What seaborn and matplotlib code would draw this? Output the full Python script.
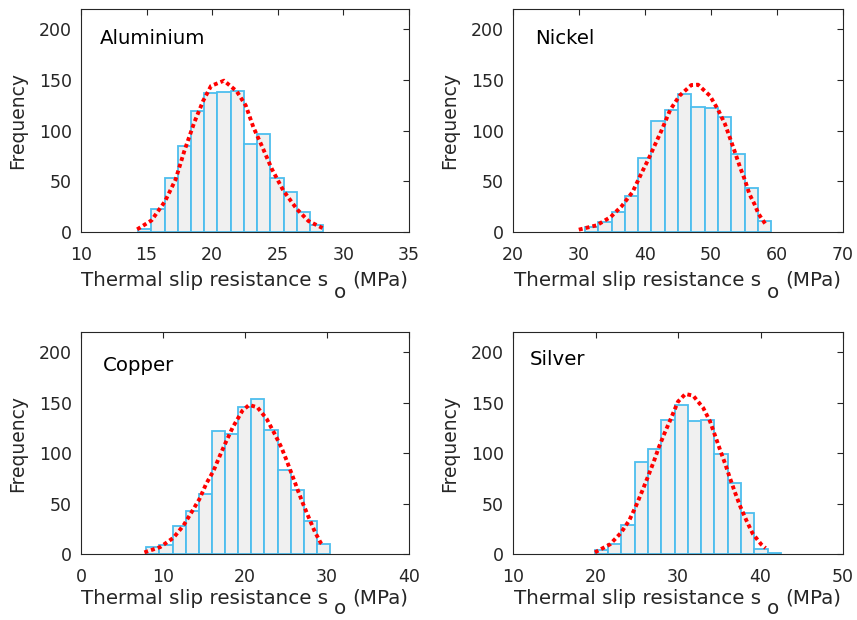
import numpy as np
import pandas as pd
import matplotlib
matplotlib.use("Agg")
import matplotlib.pyplot as plt
from matplotlib.font_manager import FontProperties
import seaborn as sns

# ---------------- data ----------------
materials = ["Aluminium", "Nickel", "Copper", "Silver"]

al_counts = [3, 23, 53, 85, 119, 137, 138, 139, 87, 97, 53, 39, 20, 7]
ni_counts = [5, 10, 20, 36, 73, 110, 120, 136, 123, 122, 113, 77, 43, 11]
cu_counts = [7, 9, 28, 43, 59, 122, 119, 146, 154, 123, 83, 63, 33, 10]
ag_counts = [4, 10, 29, 91, 104, 133, 148, 132, 133, 99, 70, 41, 5, 1]

# first bin edge and bin width (MPa)
al_bins = (14.36, 1.007)
ni_bins = (30.90, 2.015)
cu_bins = (7.97, 1.600)
ag_bins = (19.93, 1.610)

# fitted distribution curves
al_fit_x = [14.28, 15.38, 16.40, 17.21, 17.87, 18.64, 19.32, 19.91, 20.90,
            21.87, 22.56, 23.14, 23.85, 24.54, 25.43, 26.45, 27.34, 28.41]
al_fit_y = [2.6, 11.5, 30.2, 51.8, 79.7, 108.3, 129.6, 144.1, 149.3,
            138.8, 124.7, 103.3, 83.0, 62.3, 40.7, 22.6, 10.8, 3.9]

ni_fit_x = [29.97, 32.67, 34.80, 36.48, 38.11, 39.54, 40.55, 41.57, 42.54,
            43.81, 45.24, 47.02, 48.04, 49.82, 51.09, 52.11, 52.87, 53.63,
            54.40, 55.16, 55.82, 56.58, 57.19, 58.21]
ni_fit_y = [2.3, 6.6, 14.8, 25.6, 39.4, 59.0, 72.2, 86.9, 100.7,
            120.4, 134.5, 145.0, 145.3, 134.5, 120.4, 106.6, 92.8, 78.7,
            63.9, 50.9, 37.4, 27.6, 18.0, 8.2]

cu_fit_x = [7.73, 9.67, 11.29, 12.51, 13.52, 14.42, 15.27, 16.16, 16.89,
            17.66, 18.51, 19.69, 20.50, 21.51, 22.65, 23.58, 24.43, 25.08,
            25.77, 26.42, 27.11, 27.84, 28.53, 29.22, 29.54]
cu_fit_y = [1.6, 6.9, 16.2, 28.4, 41.9, 54.1, 69.6, 82.4, 96.6,
            110.8, 125.6, 142.1, 147.7, 145.4, 133.8, 119.6, 105.8, 92.6,
            77.8, 63.6, 49.1, 34.9, 21.8, 11.2, 8.6]

ag_fit_x = [19.93, 21.76, 23.07, 24.09, 24.90, 25.64, 26.33, 27.07, 27.68,
            28.37, 29.07, 30.00, 30.90, 31.84, 33.06, 33.88, 34.49, 35.10,
            35.72, 36.33, 36.94, 37.55, 38.29, 39.06, 40.08, 40.61]
ag_fit_y = [1.6, 9.6, 20.8, 33.3, 47.5, 62.0, 76.1, 91.7, 105.8,
            119.7, 132.9, 151.0, 158.6, 156.9, 144.7, 131.5, 117.4, 103.2,
            89.3, 74.5, 60.3, 47.1, 33.3, 20.1, 9.6, 5.9]

al_xticks = [10, 15, 20, 25, 30, 35]
ni_xticks = [20, 30, 40, 50, 60, 70]
cu_xticks = [0, 10, 20, 30, 40]
ag_xticks = [10, 20, 30, 40, 50]
y_ticks = [0, 50, 100, 150, 200]

x_label_main = "Thermal slip resistance s"
x_label_sub = "o"
x_label_unit = "(MPa)"
y_label = "Frequency"

counts_all = [al_counts, ni_counts, cu_counts, ag_counts]
bins_all = [al_bins, ni_bins, cu_bins, ag_bins]
fits_all = [(al_fit_x, al_fit_y), (ni_fit_x, ni_fit_y),
            (cu_fit_x, cu_fit_y), (ag_fit_x, ag_fit_y)]
xticks_all = [al_xticks, ni_xticks, cu_xticks, ag_xticks]

# ---------------- style ----------------
sns.set_style("white")
plt.rcParams["font.family"] = ["DejaVu Sans"]
TXT = "#262626"
EDGE = "#4DBEEE"
FACE = "#F0F0F0"
LBL_FP = FontProperties(family="DejaVu Sans", size=14.3)

W, H = 857, 620
fig = plt.figure(figsize=(W / 100, H / 100), dpi=100)

# axes rectangles in pixels: left, top, right, bottom
rects = [(81, 9, 409, 232), (513, 9, 843, 232),
         (81, 332, 409, 554), (513, 332, 843, 554)]
label_pads = [5.0, 5.0, 2.2, 2.2]
# panel name positions (axes fraction, baseline)
label_pos = [(0.056, 0.842), (0.066, 0.842), (0.067, 0.824), (0.052, 0.851)]

axes = []
for i, (l, t, r, b) in enumerate(rects):
    ax = fig.add_axes([l / W, 1 - b / H, (r - l) / W, (b - t) / H])
    axes.append(ax)
    counts = counts_all[i]
    start, width = bins_all[i]
    nb = len(counts)
    centers = start + width * (np.arange(nb) + 0.5)
    df = pd.DataFrame({"x": centers, "n": counts})
    sns.histplot(data=df, x="x", weights="n", binwidth=width,
                 binrange=(start, start + width * nb), ax=ax,
                 color=FACE, edgecolor=EDGE, linewidth=1.3, alpha=1.0)

    fx, fy = fits_all[i]
    sns.lineplot(x=fx, y=fy, ax=ax, sort=False, color="red", linewidth=2.8,
                 linestyle=(0, (1.0, 0.8)), dash_capstyle="butt")

    xt = xticks_all[i]
    ax.set_xlim(xt[0], xt[-1])
    ax.set_ylim(0, 220)
    ax.set_xticks(xt)
    ax.set_yticks(y_ticks)
    ax.tick_params(direction="in", length=4, width=0.8, colors=TXT,
                   labelsize=12.5, top=True, right=True)
    ax.tick_params(axis="x", pad=10)
    ax.tick_params(axis="y", pad=6.7)
    for s in ax.spines.values():
        s.set_visible(True)
        s.set_color(TXT)
        s.set_linewidth(0.8)
    ax.set_ylabel(y_label, fontsize=13.5, color=TXT, labelpad=8)
    ax.set_xlabel(x_label_main, fontproperties=LBL_FP, color=TXT,
                  labelpad=label_pads[i], ha="left")
    ax.text(label_pos[i][0], label_pos[i][1], materials[i],
            transform=ax.transAxes, fontsize=14.2, color="black",
            ha="left", va="baseline")

# x label: main text, lowered subscript "o", then the unit
fig.canvas.draw()
rend = fig.canvas.get_renderer()


def text_width(s):
    tmp = fig.text(0, 0, s, fontproperties=LBL_FP)
    w = tmp.get_window_extent(rend).width
    tmp.remove()
    return w


w_main = text_width(x_label_main)
w_sub = text_width(x_label_sub)
w_unit = text_width(x_label_unit)
gap1, gap2 = 5.0, 7.0
total = w_main + gap1 + w_sub + gap2 + w_unit
for ax, (l, t, r, b) in zip(axes, rects):
    left = (l + r) / 2 - total / 2
    ax.xaxis.label.set_x((left - l) / (r - l))
fig.canvas.draw()
for ax, (l, t, r, b) in zip(axes, rects):
    bb = ax.xaxis.label.get_window_extent(rend)
    x_sub = bb.x0 + w_main + gap1
    y_sub = max(bb.y0 - 12, 2.0)
    fig.text(x_sub / W, y_sub / H, x_label_sub, fontproperties=LBL_FP,
             color=TXT, ha="left", va="bottom")
    fig.text((x_sub + w_sub + gap2) / W, bb.y0 / H, x_label_unit,
             fontproperties=LBL_FP, color=TXT, ha="left", va="bottom")

fig.savefig("out.png", dpi=100)
